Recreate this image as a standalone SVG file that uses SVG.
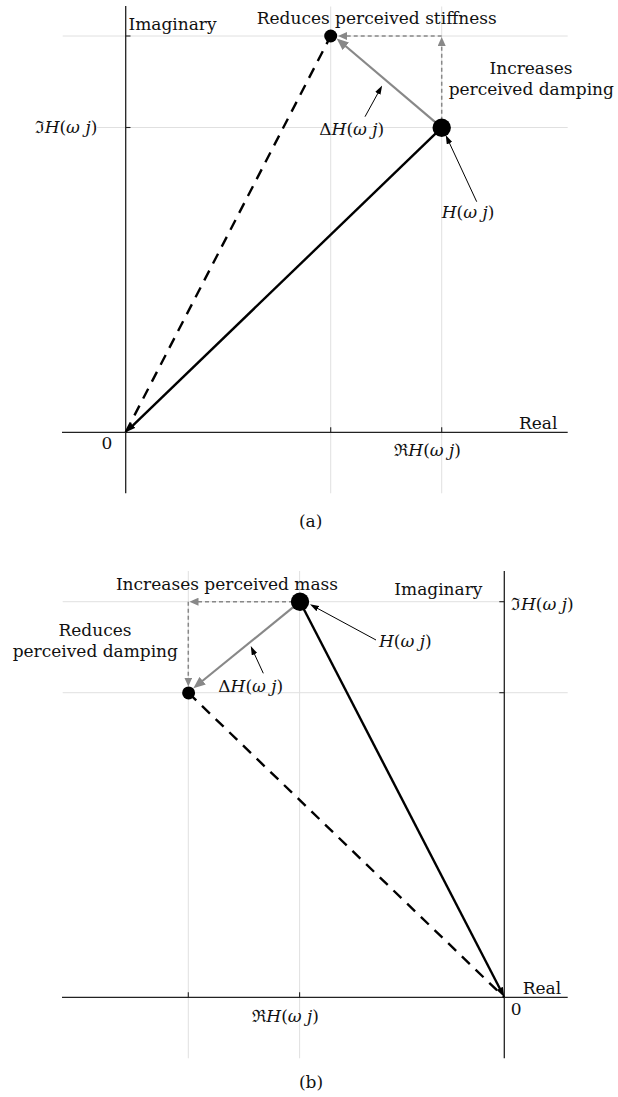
<svg xmlns="http://www.w3.org/2000/svg" width="618" height="1097" viewBox="0 0 618 1097">
<style>
text{font-family:"DejaVu Serif","Liberation Serif",serif;font-size:17px;fill:#111}
.it{font-style:italic}
.grid{stroke:#e0e0e0;stroke-width:1;fill:none}
.axis{stroke:#222;stroke-width:1.3;fill:none}
.tick{stroke:#222;stroke-width:1.1}
.main{stroke:#000;stroke-width:2.4;fill:none}
.mdash{stroke:#000;stroke-width:2.4;fill:none;stroke-dasharray:11 8}
.garrow{stroke:#888;stroke-width:2.2;fill:none}
.gdash{stroke:#888;stroke-width:1.5;fill:none;stroke-dasharray:4 3}
.ann{stroke:#000;stroke-width:1;fill:none}
</style>
<defs>
<marker id="ag" viewBox="0 0 12 10" refX="2" refY="5" markerWidth="12" markerHeight="10" markerUnits="userSpaceOnUse" orient="auto"><path d="M0,0 L12,5 L0,10 z" fill="#888"/></marker>
<marker id="agd" viewBox="0 0 9 8" refX="1" refY="4" markerWidth="9" markerHeight="8" markerUnits="userSpaceOnUse" orient="auto"><path d="M0,0 L9,4 L0,8 z" fill="#888"/></marker>
<marker id="ab" viewBox="0 0 9 6" refX="1" refY="3" markerWidth="9" markerHeight="6" markerUnits="userSpaceOnUse" orient="auto"><path d="M0,0 L9,3 L0,6 z" fill="#000"/></marker>
<marker id="abm" viewBox="0 0 10 7" refX="1" refY="3.5" markerWidth="10" markerHeight="7" markerUnits="userSpaceOnUse" orient="auto"><path d="M0,0 L10,3.5 L0,7 z" fill="#000"/></marker>
</defs>

<!-- ===== Panel (a) ===== -->
<g id="grid-a">
<line class="grid" x1="62.7" y1="36" x2="567.7" y2="36"/>
<line class="grid" x1="97" y1="127.5" x2="567.7" y2="127.5"/>
<line class="grid" x1="330.7" y1="6.5" x2="330.7" y2="493.3"/>
<line class="grid" x1="441.7" y1="6.5" x2="441.7" y2="493.3"/>
</g>
<g id="axes-a">
<line class="axis" x1="62" y1="432.3" x2="567.7" y2="432.3"/>
<line class="axis" x1="125.7" y1="6" x2="125.7" y2="493.3"/>
<line class="tick" x1="125.7" y1="36" x2="130.5" y2="36"/>
<line class="tick" x1="125.7" y1="127.5" x2="130.5" y2="127.5"/>
<line class="tick" x1="330.7" y1="427.3" x2="330.7" y2="432.3"/>
<line class="tick" x1="441.7" y1="427.3" x2="441.7" y2="432.3"/>
</g>
<g id="connectors-a">
<line class="mdash" x1="125.7" y1="432.3" x2="330.7" y2="36"/>
<line class="main" x1="441.7" y1="127.7" x2="132.2" y2="426.1" marker-end="url(#abm)"/>
<line class="gdash" x1="441.7" y1="127.7" x2="441.7" y2="45" marker-end="url(#agd)"/>
<line class="gdash" x1="441.7" y1="36" x2="346" y2="36" marker-end="url(#agd)"/>
<line class="garrow" x1="441.7" y1="127.7" x2="344.3" y2="45" marker-end="url(#ag)"/>
<line class="ann" x1="365" y1="116.7" x2="378.3" y2="92.5" marker-end="url(#ab)"/>
<line class="ann" x1="476.7" y1="201.7" x2="449.1" y2="142.3" marker-end="url(#ab)"/>
</g>
<g id="node-a-H"><circle cx="441.7" cy="127.7" r="9.2" fill="#000"/></g>
<g id="node-a-new"><circle cx="330.7" cy="36" r="6.5" fill="#000"/></g>
<g id="labels-a">
<text x="128.5" y="29.5">Imaginary</text>
<text x="376.7" y="23.5" text-anchor="middle">Reduces perceived stiffness</text>
<text x="531" y="74" text-anchor="middle">Increases</text>
<text x="531.3" y="95" text-anchor="middle">perceived damping</text>
<text x="97.3" y="133" text-anchor="end">ℑ<tspan class="it">H</tspan>(<tspan class="it">ω</tspan> <tspan class="it">j</tspan>)</text>
<text x="319.3" y="135">Δ<tspan class="it">H</tspan>(<tspan class="it">ω</tspan> <tspan class="it">j</tspan>)</text>
<text x="441.7" y="218.3"><tspan class="it">H</tspan>(<tspan class="it">ω</tspan> <tspan class="it">j</tspan>)</text>
<text x="519" y="429">Real</text>
<text x="107" y="449" text-anchor="middle">0</text>
<text x="394.3" y="456">ℜ<tspan class="it">H</tspan>(<tspan class="it">ω</tspan> <tspan class="it">j</tspan>)</text>
<text x="310.7" y="527" text-anchor="middle">(a)</text>
</g>

<!-- ===== Panel (b) ===== -->
<g id="grid-b">
<line class="grid" x1="62.7" y1="601.7" x2="504" y2="601.7"/>
<line class="grid" x1="62.7" y1="692.7" x2="567.7" y2="692.7"/>
<line class="grid" x1="188.3" y1="571" x2="188.3" y2="1058.3"/>
<line class="grid" x1="299.6" y1="571" x2="299.6" y2="1058.3"/>
</g>
<g id="axes-b">
<line class="axis" x1="62" y1="997.3" x2="567.7" y2="997.3"/>
<line class="axis" x1="504.3" y1="571" x2="504.3" y2="1058.3"/>
<line class="tick" x1="499.3" y1="601.7" x2="504.3" y2="601.7"/>
<line class="tick" x1="499.3" y1="692.7" x2="504.3" y2="692.7"/>
<line class="tick" x1="188.3" y1="992.3" x2="188.3" y2="997.3"/>
<line class="tick" x1="299.6" y1="992.3" x2="299.6" y2="997.3"/>
</g>
<g id="connectors-b">
<line class="mdash" x1="188.3" y1="692.7" x2="504.3" y2="997.3"/>
<line class="main" x1="300" y1="601.7" x2="500.2" y2="989.3" marker-end="url(#abm)"/>
<line class="gdash" x1="300" y1="601.7" x2="197.5" y2="601.7" marker-end="url(#agd)"/>
<line class="gdash" x1="188.3" y1="601.7" x2="188.3" y2="678.5" marker-end="url(#agd)"/>
<line class="garrow" x1="300" y1="601.7" x2="201.1" y2="682" marker-end="url(#ag)"/>
<line class="ann" x1="376" y1="640" x2="317" y2="608.1" marker-end="url(#ab)"/>
<line class="ann" x1="263.3" y1="673.3" x2="254.1" y2="653.3" marker-end="url(#ab)"/>
</g>
<g id="node-b-H"><circle cx="300" cy="601.7" r="9.2" fill="#000"/></g>
<g id="node-b-new"><circle cx="188.6" cy="692.9" r="6.5" fill="#000"/></g>
<g id="labels-b">
<text x="227" y="590" text-anchor="middle">Increases perceived mass</text>
<text x="394.3" y="595">Imaginary</text>
<text x="511" y="610">ℑ<tspan class="it">H</tspan>(<tspan class="it">ω</tspan> <tspan class="it">j</tspan>)</text>
<text x="95" y="635.5" text-anchor="middle">Reduces</text>
<text x="95.3" y="656.7" text-anchor="middle">perceived damping</text>
<text x="379" y="646.7"><tspan class="it">H</tspan>(<tspan class="it">ω</tspan> <tspan class="it">j</tspan>)</text>
<text x="218.3" y="691.7">Δ<tspan class="it">H</tspan>(<tspan class="it">ω</tspan> <tspan class="it">j</tspan>)</text>
<text x="522.7" y="994">Real</text>
<text x="510.7" y="1015">0</text>
<text x="252.3" y="1022">ℜ<tspan class="it">H</tspan>(<tspan class="it">ω</tspan> <tspan class="it">j</tspan>)</text>
<text x="311" y="1088" text-anchor="middle">(b)</text>
</g>
</svg>
